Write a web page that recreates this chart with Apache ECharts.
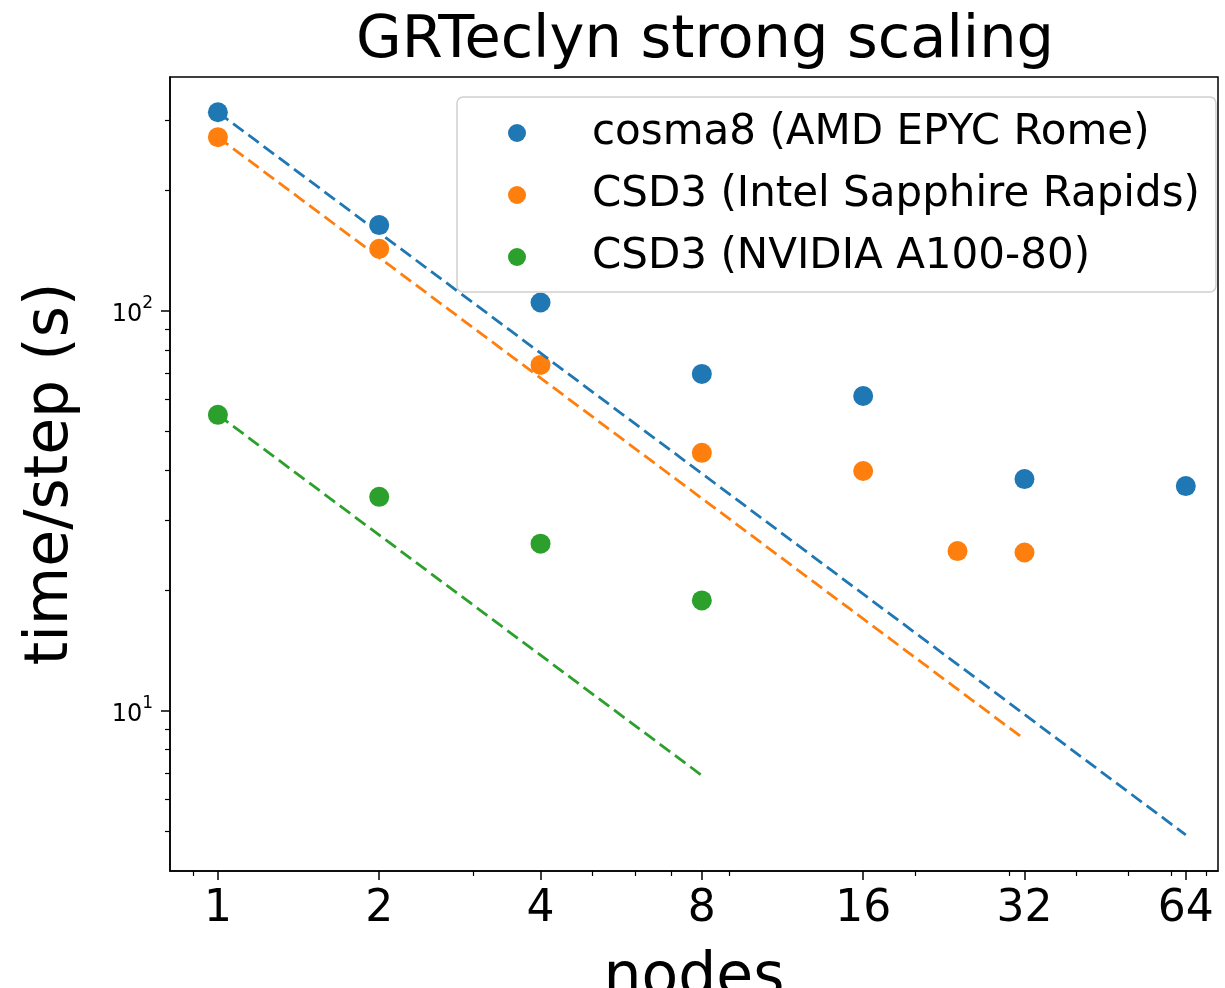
<!DOCTYPE html>
<html>
<head>
<meta charset="utf-8">
<title>GRTeclyn strong scaling</title>
<script src="https://cdn.jsdelivr.net/npm/echarts@6/dist/echarts.min.js"></script>
<style>
  html, body { margin: 0; padding: 0; background: #fff; }
  #chart { width: 1225px; height: 988px; }
</style>
</head>
<body>
<div id="chart"></div>
<script>
const cosmaNodes = [1, 2, 4, 8, 16, 32, 64];
const cosmaTime = [314, 164, 105, 69.6, 61.3, 38.0, 36.5];

const intelNodes = [1, 2, 4, 8, 16, 24, 32];
const intelTime = [272, 143, 73.3, 44.2, 39.8, 25.1, 24.9];

const gpuNodes = [1, 2, 4, 8];
const gpuTime = [55.0, 34.3, 26.2, 18.9];

// Ideal scaling guide lines (end points)
const cosmaIdeal = [[1, 314], [64, 4.9]];
const intelIdeal = [[1, 272], [32, 8.5]];
const gpuIdeal = [[1, 55.0], [8, 6.9]];

const seriesNames = ['cosma8 (AMD EPYC Rome)', 'CSD3 (Intel Sapphire Rapids)', 'CSD3 (NVIDIA A100-80)'];
const seriesColors = ['#1f77b4', '#ff7f0e', '#2ca02c'];

// Tick positions
const xMajorTicks = [1, 2, 4, 8, 16, 32, 64];
const xMinorTicks = [0.9, 3, 5, 6, 7, 9, 20, 30, 40, 50, 60, 70];
const yMajorTicks = [10, 100];
const yMinorTicks = [5, 6, 7, 8, 9, 20, 30, 40, 50, 60, 70, 80, 90, 200, 300];

const FONT = 'DejaVu Sans';

function pairs(xs, ys) {
    return xs.map((x, i) => [x, ys[i]]);
}

document.addEventListener('DOMContentLoaded', function() {
    const chart = echarts.init(document.getElementById('chart'), null, { renderer: 'canvas' });

    const xRange = { type: 'log', logBase: 2, min: 0.814, max: 73.5 };
    const yRange = { type: 'log', logBase: 10, min: 3.98, max: 384.6 };

    const scatterData = [
        pairs(cosmaNodes, cosmaTime),
        pairs(intelNodes, intelTime),
        pairs(gpuNodes, gpuTime)
    ];
    const idealData = [cosmaIdeal, intelIdeal, gpuIdeal];

    const series = [];
    seriesNames.forEach((name, i) => {
        series.push({
            name: name,
            type: 'scatter',
            data: scatterData[i],
            symbol: 'circle',
            symbolSize: 20,
            itemStyle: { color: seriesColors[i], opacity: 1 },
            z: 3
        });
    });
    seriesNames.forEach((name, i) => {
        series.push({
            name: 'ideal ' + i,
            type: 'line',
            data: idealData[i],
            showSymbol: false,
            symbol: 'none',
            lineStyle: { color: seriesColors[i], width: 2.8, type: [13, 6] },
            z: 4,
            silent: true
        });
    });

    const option = {
        backgroundColor: '#fff',
        animation: false,
        textStyle: { fontFamily: FONT },
        title: {
            text: 'GRTeclyn strong scaling',
            left: 700,
            top: 7,
            textAlign: 'center',
            textStyle: { fontFamily: FONT, fontSize: 59, fontWeight: 'normal', color: '#000' }
        },
        legend: {
            data: seriesNames,
            orient: 'vertical',
            left: 457,
            top: 97,
            padding: [14, 16, 13, 51],
            itemWidth: 18,
            itemHeight: 18,
            itemGap: 18,
            icon: 'circle',
            backgroundColor: '#fff',
            borderColor: '#d0d0d0',
            borderWidth: 1.5,
            borderRadius: 6,
            textStyle: {
                fontFamily: FONT,
                fontSize: 42,
                lineHeight: 44,
                color: '#000',
                padding: [0, 0, 0, 61]
            }
        },
        grid: {
            left: 170,
            right: 7,
            top: 77,
            bottom: 117,
            outerBoundsMode: 'none',
            containLabel: false,
            show: true,
            backgroundColor: 'transparent',
            borderColor: '#000',
            borderWidth: 1.5
        },
        xAxis: [
            Object.assign({}, xRange, {
                position: 'bottom',
                name: 'nodes',
                nameLocation: 'middle',
                nameGap: 78,
                nameTextStyle: { fontFamily: FONT, fontSize: 60, color: '#000' },
                axisLine: { show: true, lineStyle: { color: '#000', width: 1.5 } },
                axisTick: { show: true, customValues: xMajorTicks, length: 9, lineStyle: { color: '#000', width: 1.5 } },
                axisLabel: {
                    show: true,
                    customValues: xMajorTicks,
                    formatter: v => String(Math.round(v)),
                    fontFamily: FONT,
                    fontSize: 44,
                    color: '#000',
                    margin: 17
                },
                splitLine: { show: false },
                minorTick: { show: false }
            }),
            Object.assign({}, xRange, {
                position: 'bottom',
                axisLine: { show: false },
                axisTick: { show: true, customValues: xMinorTicks, length: 5, lineStyle: { color: '#000', width: 1.2 } },
                axisLabel: { show: false },
                splitLine: { show: false }
            })
        ],
        yAxis: [
            Object.assign({}, yRange, {
                position: 'left',
                name: 'time/step (s)',
                nameLocation: 'middle',
                nameGap: 89,
                nameTextStyle: { fontFamily: FONT, fontSize: 60, color: '#000' },
                axisLine: { show: true, lineStyle: { color: '#000', width: 1.5 } },
                axisTick: { show: true, customValues: yMajorTicks, length: 9, lineStyle: { color: '#000', width: 1.5 } },
                axisLabel: {
                    show: true,
                    customValues: yMajorTicks,
                    formatter: v => '{b|10}{s|' + Math.round(Math.log10(v)) + '}',
                    margin: 17,
                    rich: {
                        b: { fontFamily: FONT, fontSize: 24, color: '#000', lineHeight: 32, padding: [8, 0, 0, 0] },
                        s: { fontFamily: FONT, fontSize: 17, color: '#000', verticalAlign: 'top', lineHeight: 20 }
                    }
                },
                splitLine: { show: false }
            }),
            Object.assign({}, yRange, {
                position: 'left',
                axisLine: { show: false },
                axisTick: { show: true, customValues: yMinorTicks, length: 5, lineStyle: { color: '#000', width: 1.2 } },
                axisLabel: { show: false },
                splitLine: { show: false }
            })
        ],
        series: series
    };

    chart.setOption(option);
});
</script>
</body>
</html>
